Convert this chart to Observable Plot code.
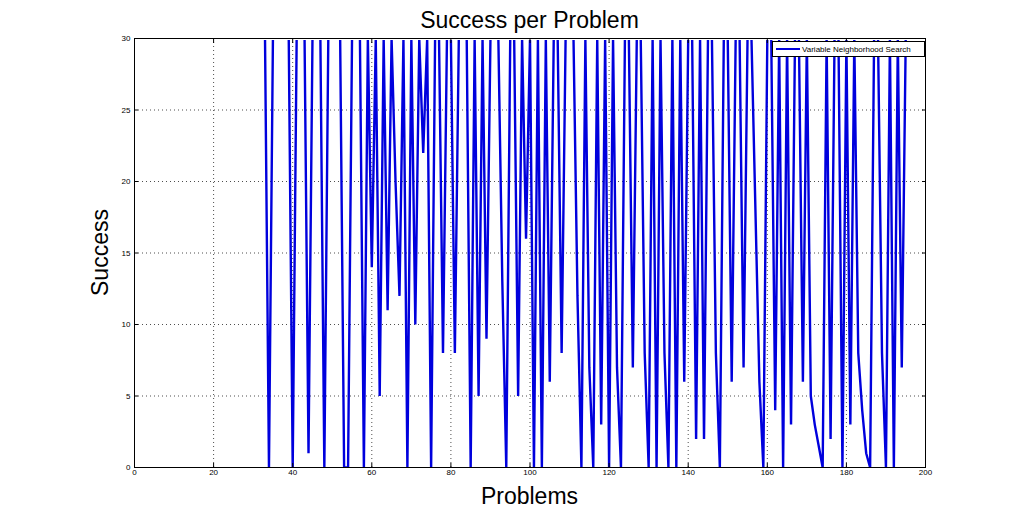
<!DOCTYPE html>
<html><head><meta charset="utf-8">
<script src="https://cdn.jsdelivr.net/npm/d3@7"></script>
<script src="https://cdn.jsdelivr.net/npm/@observablehq/plot@0.6"></script>
<style>body{margin:0;background:#fff} svg{display:block}</style>
</head><body><div id="chart"></div>
<script>
const titleText = "Success per Problem";
const xLabel = "Problems";
const yLabel = "Success";
const seriesName = "Variable Neighborhood Search";
const xTicks = [0,20,40,60,80,100,120,140,160,180,200];
const yTicks = [0,5,10,15,20,25,30];
const problems = d3.range(33, 196);
const success = [
 30,0,30,30,30,30,30,0,30,30,30,1,30,30,30,0,30,30,30,30,0,0,30,30,30,0,30,14,30,5,   // 33-62
 30,11,30,20,12,30,0,30,10,30,22,30,0,30,30,8,30,30,8,30,30,30,0,30,5,30,9,30,30,30, // 63-92
 13,0,30,30,5,30,16,30,0,30,0,30,6,30,30,8,30,30,30,12,0,30,7,0,30,3,30,0,30,7,     // 93-122
 0,30,30,7,30,30,8,0,30,0,30,8,0,30,0,30,6,30,30,2,30,2,30,30,8,0,30,30,6,30,       // 123-152
 30,7,30,30,18,6,0,30,30,4,30,0,30,3,30,30,6,30,5,3,1.5,0,30,2,30,30,0,30,3,30,    // 153-182
 8,4,1,0,30,30,8,0,30,0,30,7,30                                                        // 183-195
];
const data = problems.map((p, i) => ({problem: p, success: success[i]}));

const W = 1024, H = 526, ML = 134, MR = 99, MT = 38, MB = 59;
const font = "Arial, 'Liberation Sans', Helvetica, sans-serif";
const lineColor = "#0000dd";

const chart = Plot.plot({
  width: W, height: H,
  marginLeft: ML, marginRight: MR, marginTop: MT, marginBottom: MB,
  style: {fontFamily: font, background: "#fff", color: "#000", fontSize: "8px"},
  x: {domain: [0, 200]},
  y: {domain: [0, 30]},
  marks: [
    Plot.gridX(xTicks, {stroke: "#222", strokeOpacity: 0.8, strokeDasharray: "1,3"}),
    Plot.gridY(yTicks, {stroke: "#222", strokeOpacity: 0.8, strokeDasharray: "1,3"}),
    Plot.lineY(data, {x: "problem", y: "success", stroke: lineColor, strokeWidth: 2.4,
      strokeLinejoin: "bevel", strokeLinecap: "butt", clip: true}),
    // the axes box hides the part of the line that runs along the upper limit
    Plot.ruleY([30], {stroke: "#fff", strokeWidth: 3.2}),
    Plot.frame({stroke: "#000", strokeWidth: 1}),
    Plot.axisX(xTicks, {anchor: "bottom", tickSize: -4, tickPadding: 6, label: null, fontSize: 8}),
    Plot.axisX(xTicks, {anchor: "top", tickSize: -4, tickFormat: () => "", label: null}),
    Plot.axisY(yTicks, {anchor: "left", tickSize: -4, tickPadding: 8, label: null, fontSize: 8}),
    Plot.axisY(yTicks, {anchor: "right", tickSize: -4, tickFormat: () => "", label: null})
  ]
});
document.getElementById("chart").appendChild(chart);

const svg = d3.select(chart);
const cx = (ML + (W - MR)) / 2;
svg.append("text").attr("x", cx).attr("y", 28).attr("text-anchor", "middle")
  .attr("font-family", font).attr("font-size", 23).attr("fill", "#000").text(titleText);
svg.append("text").attr("x", cx).attr("y", 504).attr("text-anchor", "middle")
  .attr("font-family", font).attr("font-size", 23).attr("fill", "#000").text(xLabel);
svg.append("text").attr("transform", `translate(108,${(MT + H - MB) / 2}) rotate(-90)`)
  .attr("text-anchor", "middle")
  .attr("font-family", font).attr("font-size", 23).attr("fill", "#000").text(yLabel);

// legend
const lg = svg.append("g");
lg.append("rect").attr("x", 772.5).attr("y", 41.5).attr("width", 152).attr("height", 15)
  .attr("fill", "#fff").attr("stroke", "#000").attr("stroke-width", 1);
lg.append("line").attr("x1", 776).attr("x2", 800).attr("y1", 49).attr("y2", 49)
  .attr("stroke", lineColor).attr("stroke-width", 2);
lg.append("text").attr("x", 802).attr("y", 52).attr("text-anchor", "start")
  .attr("font-family", font).attr("font-size", 8).attr("fill", "#000").text(seriesName);
</script>
</body></html>
